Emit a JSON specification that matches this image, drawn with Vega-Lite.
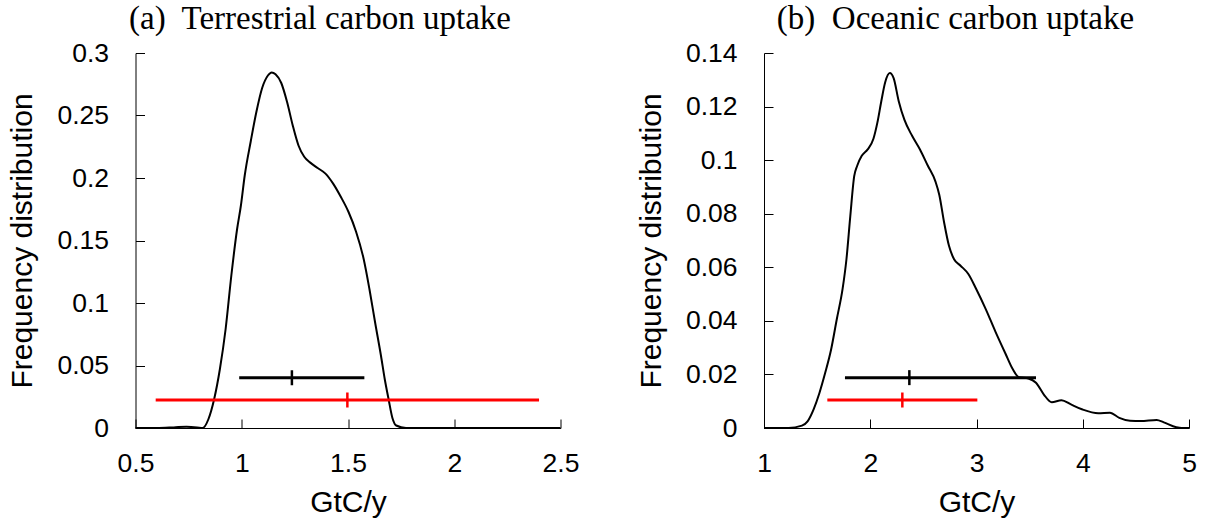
{
  "$schema": "https://vega.github.io/schema/vega-lite/v6.json",
  "padding": {"left": 7.5, "top": 3, "right": 5, "bottom": 5},
  "background": "white",
  "spacing": 56.5,
  "config": {
    "view": {"stroke": null},
    "axis": {
      "grid": false,
      "domainColor": "black",
      "domainWidth": 1,
      "tickColor": "black",
      "tickWidth": 1,
      "tickSize": -9,
      "labelFont": "Liberation Sans",
      "labelFontSize": 26.5,
      "labelColor": "black",
      "labelPadding": 36,
      "labelFlush": false,
      "labelOverlap": false,
      "titleFont": "Liberation Sans",
      "titleFontSize": 30,
      "titleFontWeight": "normal",
      "titleColor": "black"
    },
    "title": {
      "font": "Liberation Serif",
      "fontSize": 33,
      "fontWeight": "normal",
      "color": "black",
      "frame": "group",
      "anchor": "middle",
      "offset": 4
    }
  },
  "datasets": {
    "terr": [
      {"x": 0.5, "y": 0}, {"x": 0.6, "y": 0}, {"x": 0.68, "y": 0.0005}, {"x": 0.74, "y": 0.001},
      {"x": 0.79, "y": 0.0005}, {"x": 0.816, "y": 0}, {"x": 0.843, "y": 0.007}, {"x": 0.87, "y": 0.023},
      {"x": 0.897, "y": 0.047}, {"x": 0.924, "y": 0.079}, {"x": 0.951, "y": 0.122}, {"x": 0.978, "y": 0.159},
      {"x": 0.996, "y": 0.178}, {"x": 1.014, "y": 0.202}, {"x": 1.042, "y": 0.229}, {"x": 1.069, "y": 0.253},
      {"x": 1.096, "y": 0.272}, {"x": 1.123, "y": 0.282}, {"x": 1.141, "y": 0.2845}, {"x": 1.159, "y": 0.283},
      {"x": 1.186, "y": 0.276}, {"x": 1.213, "y": 0.261}, {"x": 1.24, "y": 0.242}, {"x": 1.267, "y": 0.226},
      {"x": 1.294, "y": 0.217}, {"x": 1.321, "y": 0.2125}, {"x": 1.357, "y": 0.208}, {"x": 1.394, "y": 0.2035},
      {"x": 1.43, "y": 0.1955}, {"x": 1.466, "y": 0.185}, {"x": 1.502, "y": 0.173}, {"x": 1.538, "y": 0.157},
      {"x": 1.574, "y": 0.135}, {"x": 1.601, "y": 0.111}, {"x": 1.628, "y": 0.084}, {"x": 1.655, "y": 0.058},
      {"x": 1.673, "y": 0.039}, {"x": 1.691, "y": 0.023}, {"x": 1.709, "y": 0.008}, {"x": 1.727, "y": 0.002},
      {"x": 1.773, "y": 0}, {"x": 1.9, "y": 0}, {"x": 2.0, "y": 0}, {"x": 2.5, "y": 0}
    ],
    "terrBars": [
      {"kind": "model", "lo": 0.988, "hi": 1.577, "mid": 1.236, "y": 0.0402},
      {"kind": "obs", "lo": 0.595, "hi": 2.399, "mid": 1.497, "y": 0.0224}
    ],
    "ocean": [
      {"x": 1.0, "y": 0}, {"x": 1.23, "y": 0}, {"x": 1.357, "y": 0.0009}, {"x": 1.41, "y": 0.0025},
      {"x": 1.466, "y": 0.0069}, {"x": 1.521, "y": 0.013}, {"x": 1.576, "y": 0.0206}, {"x": 1.63, "y": 0.029},
      {"x": 1.685, "y": 0.0406}, {"x": 1.74, "y": 0.052}, {"x": 1.776, "y": 0.063}, {"x": 1.812, "y": 0.079},
      {"x": 1.849, "y": 0.094}, {"x": 1.878, "y": 0.098}, {"x": 1.92, "y": 0.1016}, {"x": 1.976, "y": 0.104},
      {"x": 2.03, "y": 0.108}, {"x": 2.067, "y": 0.114}, {"x": 2.104, "y": 0.122}, {"x": 2.14, "y": 0.129},
      {"x": 2.184, "y": 0.1325}, {"x": 2.22, "y": 0.1306}, {"x": 2.268, "y": 0.122}, {"x": 2.322, "y": 0.115},
      {"x": 2.395, "y": 0.109}, {"x": 2.468, "y": 0.104}, {"x": 2.541, "y": 0.098}, {"x": 2.614, "y": 0.092},
      {"x": 2.65, "y": 0.087}, {"x": 2.694, "y": 0.077}, {"x": 2.741, "y": 0.068}, {"x": 2.789, "y": 0.063},
      {"x": 2.85, "y": 0.0606}, {"x": 2.923, "y": 0.0575}, {"x": 2.996, "y": 0.052}, {"x": 3.087, "y": 0.0444},
      {"x": 3.178, "y": 0.036}, {"x": 3.27, "y": 0.028}, {"x": 3.342, "y": 0.0219}, {"x": 3.397, "y": 0.019},
      {"x": 3.488, "y": 0.0185}, {"x": 3.56, "y": 0.0169}, {"x": 3.634, "y": 0.0125}, {"x": 3.708, "y": 0.0096},
      {"x": 3.8, "y": 0.0104}, {"x": 3.889, "y": 0.0088}, {"x": 3.998, "y": 0.0069}, {"x": 4.146, "y": 0.0055},
      {"x": 4.256, "y": 0.0057}, {"x": 4.344, "y": 0.0038}, {"x": 4.445, "y": 0.0027}, {"x": 4.545, "y": 0.0026},
      {"x": 4.696, "y": 0.003}, {"x": 4.763, "y": 0.0021}, {"x": 4.88, "y": 0.0003}, {"x": 4.93, "y": 0},
      {"x": 5.0, "y": 0}
    ],
    "oceanBars": [
      {"kind": "model", "lo": 1.762, "hi": 3.56, "mid": 2.368, "y": 0.0188},
      {"kind": "obs", "lo": 1.596, "hi": 3.008, "mid": 2.302, "y": 0.01045}
    ]
  },
  "hconcat": [
    {
      "title": {"text": "(a)\u00a0 Terrestrial carbon uptake", "dx": -28},
      "width": 425,
      "height": 375,
      "layer": [
        {
          "data": {"name": "terr"},
          "mark": {"type": "line", "color": "black", "strokeWidth": 2, "interpolate": "monotone"},
          "encoding": {
            "x": {"field": "x", "type": "quantitative", "scale": {"domain": [0.5, 2.5], "nice": false, "zero": false},
                  "axis": {"title": "GtC/y", "values": [0.5, 1, 1.5, 2, 2.5], "format": "~g", "labelPadding": 31, "titlePadding": 11}},
            "y": {"field": "y", "type": "quantitative", "scale": {"domain": [0, 0.3], "nice": false},
                  "axis": {"title": "Frequency distribution", "values": [0, 0.05, 0.1, 0.15, 0.2, 0.25, 0.3], "format": "~g", "titlePadding": 19}}
          }
        },
        {
          "data": {"name": "terrBars"},
          "mark": {"type": "rule", "strokeWidth": 3},
          "encoding": {
            "x": {"field": "lo", "type": "quantitative"},
            "x2": {"field": "hi"},
            "y": {"field": "y", "type": "quantitative"},
            "color": {"field": "kind", "type": "nominal", "scale": {"domain": ["model", "obs"], "range": ["black", "#ff0000"]}, "legend": null}
          }
        },
        {
          "data": {"name": "terrBars"},
          "mark": {"type": "tick", "orient": "vertical", "size": 15, "thickness": 2.5, "opacity": 1},
          "encoding": {
            "x": {"field": "mid", "type": "quantitative"},
            "y": {"field": "y", "type": "quantitative"},
            "color": {"field": "kind", "type": "nominal", "scale": {"domain": ["model", "obs"], "range": ["black", "#ff0000"]}, "legend": null}
          }
        }
      ]
    },
    {
      "title": {"text": "(b)\u00a0 Oceanic carbon uptake", "dx": -21},
      "width": 425,
      "height": 375,
      "layer": [
        {
          "data": {"name": "ocean"},
          "mark": {"type": "line", "color": "black", "strokeWidth": 2, "interpolate": "monotone"},
          "encoding": {
            "x": {"field": "x", "type": "quantitative", "scale": {"domain": [1, 5], "nice": false, "zero": false},
                  "axis": {"title": "GtC/y", "values": [1, 2, 3, 4, 5], "format": "~g", "labelPadding": 31, "titlePadding": 11}},
            "y": {"field": "y", "type": "quantitative", "scale": {"domain": [0, 0.14], "nice": false},
                  "axis": {"title": "Frequency distribution", "values": [0, 0.02, 0.04, 0.06, 0.08, 0.1, 0.12, 0.14], "format": "~g", "titlePadding": 19}}
          }
        },
        {
          "data": {"name": "oceanBars"},
          "mark": {"type": "rule", "strokeWidth": 3},
          "encoding": {
            "x": {"field": "lo", "type": "quantitative"},
            "x2": {"field": "hi"},
            "y": {"field": "y", "type": "quantitative"},
            "color": {"field": "kind", "type": "nominal", "scale": {"domain": ["model", "obs"], "range": ["black", "#ff0000"]}, "legend": null}
          }
        },
        {
          "data": {"name": "oceanBars"},
          "mark": {"type": "tick", "orient": "vertical", "size": 15, "thickness": 2.5, "opacity": 1},
          "encoding": {
            "x": {"field": "mid", "type": "quantitative"},
            "y": {"field": "y", "type": "quantitative"},
            "color": {"field": "kind", "type": "nominal", "scale": {"domain": ["model", "obs"], "range": ["black", "#ff0000"]}, "legend": null}
          }
        }
      ]
    }
  ]
}
